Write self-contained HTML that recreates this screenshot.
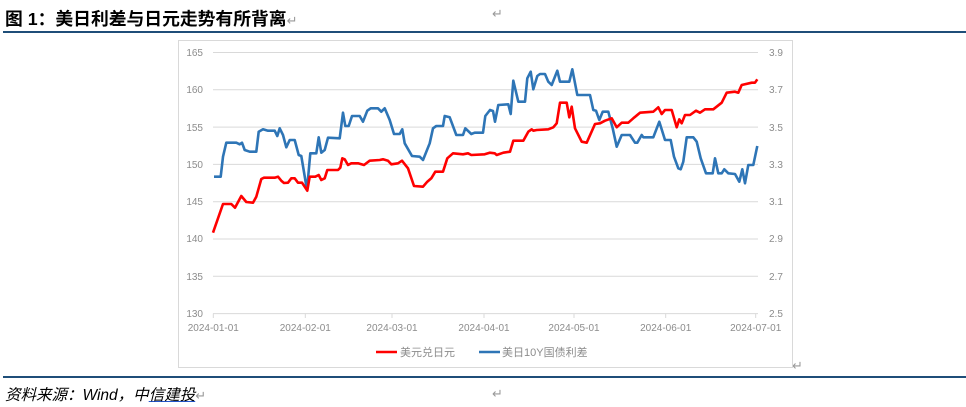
<!DOCTYPE html>
<html><head><meta charset="utf-8"><style>
body{margin:0;width:966px;height:407px;background:#fff;overflow:hidden;position:relative;font-family:"Liberation Sans","Noto Sans CJK SC",sans-serif}
.t{position:absolute;left:5px;top:5px;font-size:17.8px;font-weight:bold;color:#000;white-space:nowrap}
.r{position:absolute;color:#999;font-size:13px}
.s{position:absolute;left:5px;top:383px;font-size:15.5px;font-style:italic;color:#000;white-space:nowrap}
</style></head><body>
<div class="t">图 1：美日利差与日元走势有所背离<span style="color:#999;font-weight:normal;font-size:13px">↵</span></div>
<div class="r" style="left:492px;top:6px">↵</div>
<div style="position:absolute;left:3px;top:31px;width:963px;height:2px;background:#1f4e79"></div>
<div style="position:absolute;left:3px;top:376px;width:963px;height:2px;background:#1f4e79"></div>
<div class="s">资料来源：Wind，中<span style="text-decoration:underline;text-decoration-color:#2255cc">信建投</span><span style="color:#999;font-style:normal;font-size:13px">↵</span></div>
<div class="r" style="left:492px;top:386px">↵</div>
<div class="r" style="left:792px;top:358px">↵</div>
<svg width="966" height="407" style="position:absolute;left:0;top:0" font-family="Liberation Sans, Noto Sans CJK SC, sans-serif">
<rect x="178.5" y="40.5" width="614" height="327" fill="none" stroke="#d9d9d9"/>
<g stroke="#d9d9d9" stroke-width="1">
<line x1="213" x2="758" y1="52.5" y2="52.5"/><line x1="213" x2="758" y1="89.8" y2="89.8"/><line x1="213" x2="758" y1="127.1" y2="127.1"/><line x1="213" x2="758" y1="164.4" y2="164.4"/><line x1="213" x2="758" y1="201.7" y2="201.7"/><line x1="213" x2="758" y1="239" y2="239"/><line x1="213" x2="758" y1="276.3" y2="276.3"/><line x1="213" x2="758" y1="313.6" y2="313.6"/>
<line x1="213.3" x2="213.3" y1="313.6" y2="318"/><line x1="305.3" x2="305.3" y1="313.6" y2="318"/><line x1="392" x2="392" y1="313.6" y2="318"/><line x1="484" x2="484" y1="313.6" y2="318"/><line x1="574" x2="574" y1="313.6" y2="318"/><line x1="665.7" x2="665.7" y1="313.6" y2="318"/><line x1="755.7" x2="755.7" y1="313.6" y2="318"/>
</g>
<g fill="#8c8c8c" font-size="10" text-anchor="end">
<text x="203" y="56">165</text><text x="203" y="93">160</text><text x="203" y="131">155</text><text x="203" y="168">150</text><text x="203" y="205">145</text><text x="203" y="242">140</text><text x="203" y="280">135</text><text x="203" y="317">130</text>
</g>
<g fill="#8c8c8c" font-size="10">
<text x="769" y="56">3.9</text><text x="769" y="93">3.7</text><text x="769" y="131">3.5</text><text x="769" y="168">3.3</text><text x="769" y="205">3.1</text><text x="769" y="242">2.9</text><text x="769" y="280">2.7</text><text x="769" y="317">2.5</text>
</g>
<g fill="#8c8c8c" font-size="10" text-anchor="middle">
<text x="213.3" y="331">2024-01-01</text><text x="305.3" y="331">2024-02-01</text><text x="392" y="331">2024-03-01</text><text x="484" y="331">2024-04-01</text><text x="574" y="331">2024-05-01</text><text x="665.7" y="331">2024-06-01</text><text x="755.7" y="331">2024-07-01</text>
</g>
<polyline fill="none" stroke="#2e75b6" stroke-width="2.6" stroke-linejoin="round" points="214,176.7 220.7,176.7 223,156.7 226.3,142.7 236.3,142.7 239.7,144.3 242,142.7 244.7,150 249.7,151.7 256.3,151.7 258.7,131.7 263,129.3 268,130.7 274.7,130.7 277.3,136 279.7,128.3 283,135 286.3,147.3 289.7,140 294.7,140 298.7,155 301.3,156 307,190 310.3,153.3 316.3,153.3 318.7,137.3 321.3,152.7 324.7,150 328,137.7 339.7,138.3 343,112.7 345.3,126 348.7,126 352,116 359.7,116 363,121.7 367.3,110.7 370.7,108.3 378,108.3 381.3,111.7 384.7,108.3 389.7,120 394,134 399.7,134 402.3,129.3 404.7,143.3 412,156 419.7,156.7 423,160 429.7,143.3 433,128.3 436.3,126 443,126 444.7,116 449.7,117.3 456.3,135 463,135 465.3,128.3 471.3,134 474.7,132.7 483,132.7 485.3,116 490,110 493,111 495,121.7 498.3,105 508.3,104.3 510.7,114 513.3,80.7 518.3,101.7 525,101.7 527.3,78.3 530.7,71.7 533.3,89.3 537.3,76 540,74 545,74 548.3,81.7 551.7,85 557.3,70.7 560,81.7 569.3,81.7 572.3,69.3 577.3,95 590,95 593.3,110 596,110.7 599.3,120 602.7,111.7 608.3,111.7 612.7,128.3 616.7,146.7 621.7,135 630,135 635,142.7 637.3,142.7 641.7,135 643.3,137.3 653.3,137.3 659.3,121.7 665,140 670.7,140 674,156.7 678.3,168.3 680.7,169.3 683.3,161.7 686.7,137.3 693.3,137.3 696.7,141.7 700.7,158.3 706,173.3 712.7,173.3 715,158.3 718.3,173.3 721.7,173.3 724.3,169.3 728.3,173.3 735,174 739.3,181.7 742.3,169.3 745,183.3 748.3,165 753.3,165 757.3,146"/>
<polyline fill="none" stroke="#ff0000" stroke-width="2.6" stroke-linejoin="round" points="213,232.7 223,204 231.3,204 235,207.7 241.3,196 246.3,202 253,202.7 256.3,196.7 261.3,179 264,177.7 274.7,177.7 278,176.7 281.3,180.7 284,183 288,182.7 291.3,178.3 294.7,178.3 298,182.7 302,182.7 307.3,190.7 309.7,176.7 315.3,176.7 318.7,175 321.3,180 324.7,178.3 327.3,170 338,170 340.3,167.7 342.3,158.3 344.7,159.3 348,165 351.3,163.3 358,163.3 364,165 369.7,160.7 379.7,160 383,159.3 388,160.7 391.3,164.3 398,163.3 402,160.7 408,168.3 414,186 423,186.7 427.3,181.7 431.3,178.3 435.3,171.7 443,171.7 447.3,158.3 453,153.3 463,154.3 468,153.3 471.3,155 484.7,154.3 489.7,152.7 494.7,153.3 496.7,155 503.3,152.7 510,151.7 513.3,140.7 523.3,140.7 528.3,131.7 531.7,129.3 533.3,130.7 536.7,130 548.3,129.3 553.3,127.3 556.7,123.3 560,102.7 566.7,102.7 569.3,117.3 571.7,106.7 575,128.3 581.7,141.7 586.7,142.7 595,124 600,123.3 605,120.7 611.7,118.3 616.7,127.3 621.7,122.7 628.3,122.7 633.3,118.3 640,112.7 653.3,111.7 658.3,107.3 661.7,114 665,110 671.7,110 676.7,127.3 679.3,119.3 681.7,123.3 685,115 690,115 696,110.7 700,112.7 705,109.3 713.3,109.3 721.7,102.7 726.7,92.7 735,91.7 738.3,92.7 741.7,85 751.7,82.7 755,82.7 757.3,79.3"/>
<line x1="376" x2="397" y1="352" y2="352" stroke="#ff0000" stroke-width="2.6"/>
<text x="400" y="356" font-size="11" fill="#8c8c8c">美元兑日元</text>
<line x1="479" x2="500" y1="352" y2="352" stroke="#2e75b6" stroke-width="2.6"/>
<text x="502" y="356" font-size="11" fill="#8c8c8c">美日10Y国债利差</text>
</svg>
</body></html>
